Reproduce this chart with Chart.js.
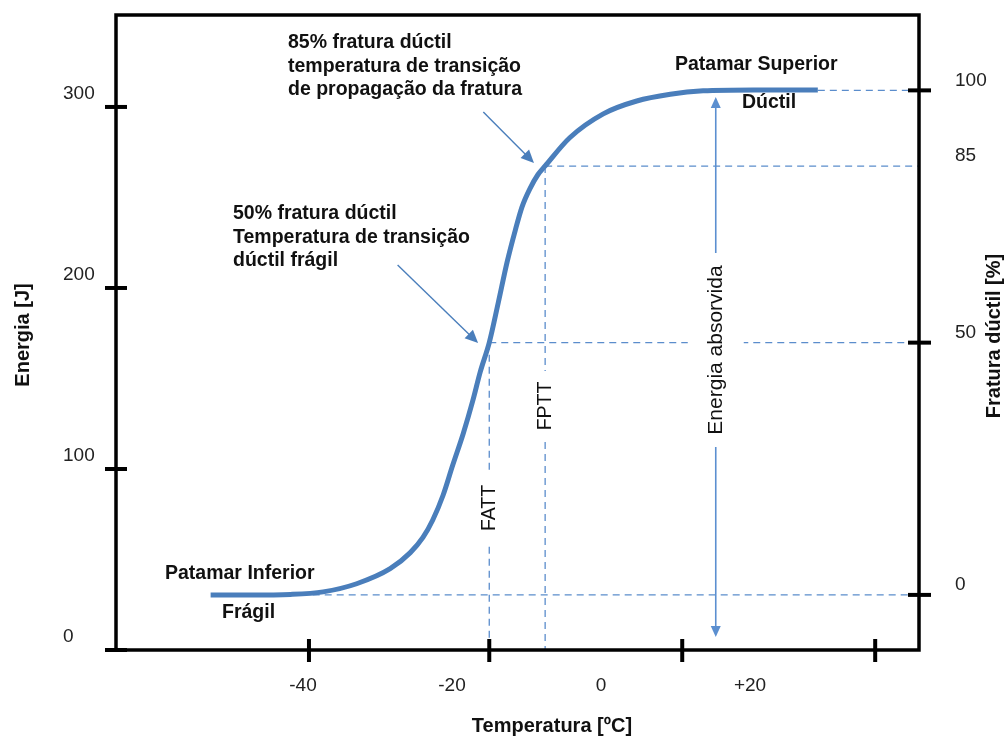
<!DOCTYPE html>
<html>
<head>
<meta charset="utf-8">
<style>
  html, body { margin: 0; padding: 0; background: #ffffff; }
  #wrap { width: 1007px; height: 736px; }
</style>
<script src="https://cdn.jsdelivr.net/npm/chart.js@4/dist/chart.umd.min.js"></script>
</head>
<body>
<div id="wrap"><canvas id="c" width="1007" height="736"></canvas></div>
<script>
// Curva de transição dúctil-frágil (ensaio Charpy): temperatura [ºC] x energia [J]
const temperatura = [-52.4, -47.1, -41.7, -37.3, -32.8, -28.3, -25.6, -23.9, -22.6, -21.2, -19.9, -18.5, -17.2,
  -16.2, -15.0, -13.8, -12.6, -11.5, -10.6, -9.5, -8.5, -7.5, -4.2, 0.3, 4.8, 9.3, 13.7, 20.4, 29.1];
const energia = [30.4, 30.4, 30.7, 32.1, 36.6, 44.9, 53.8, 62.2, 71.7, 85.5, 102.2, 119.5, 137.9,
  153.8, 169.8, 191.7, 214.4, 232.0, 244.8, 255.2, 262.4, 267.4, 283.0, 296.2, 303.3, 307.0, 308.9, 309.4, 309.4];

// Eixos
const ticksTemperatura = [-40, -20, 0, 20];
const marcasTemperatura = [-39.2, -15.0, 10.9, 36.8];
const ticksEnergia = [0, 100, 200, 300];
const ticksFratura = [0, 50, 85, 100];
const marcasFratura = [0, 50, 100];

// Temperaturas de transição
const FATT = -15.0;   // 50% fratura dúctil
const FPTT = -7.5;    // 85% fratura dúctil
const inicioPatamarInferior = -38.7;
const fimPatamarSuperior = 29.1;

// Setas das anotações: [temperatura, energia]
const setaFPTT = { de: [-15.8, 297.2], para: [-9.0, 269.1] };
const setaFATT = { de: [-27.3, 212.7], para: [-16.5, 169.6] };
// Seta dupla da energia absorvida
const energiaAbsorvida = { temperatura: 15.4, de: 7.2, ate: 305.5 };

const FONT = '"Liberation Sans", Arial, Helvetica, sans-serif';
const AZUL = '#4a7ebb';
const AZUL_TRACO = '#5b8dcc';

function setaPonta(ctx, x1, y1, x2, y2, comp, meia) {
  const a = Math.atan2(y2 - y1, x2 - x1);
  ctx.beginPath();
  ctx.moveTo(x2, y2);
  ctx.lineTo(x2 - comp * Math.cos(a) + meia * Math.sin(a), y2 - comp * Math.sin(a) - meia * Math.cos(a));
  ctx.lineTo(x2 - comp * Math.cos(a) - meia * Math.sin(a), y2 - comp * Math.sin(a) + meia * Math.cos(a));
  ctx.closePath();
  ctx.fill();
}

function textoVertical(ctx, txt, cx, cy, font) {
  ctx.save();
  ctx.translate(cx, cy);
  ctx.rotate(-Math.PI / 2);
  ctx.font = font;
  ctx.textAlign = 'center';
  ctx.textBaseline = 'middle';
  ctx.fillText(txt, 0, 0);
  ctx.restore();
}

function semMargens(s) {
  s.paddingTop = 0; s.paddingBottom = 0; s.paddingLeft = 0; s.paddingRight = 0;
}

const anotacoes = {
  id: 'anotacoes',
  beforeDatasetsDraw(chart) {
    const { ctx, chartArea: ca, scales: { x, y, y2 } } = chart;
    ctx.save();
    // linhas tracejadas de referência
    ctx.strokeStyle = AZUL_TRACO;
    ctx.lineWidth = 1.3;
    ctx.setLineDash([7, 5]);
    const horiz = [[100, fimPatamarSuperior], [85, FPTT], [50, FATT], [0, inicioPatamarInferior]];
    horiz.forEach(([p, t]) => {
      ctx.beginPath();
      ctx.moveTo(x.getPixelForValue(t), y2.getPixelForValue(p));
      ctx.lineTo(ca.right, y2.getPixelForValue(p));
      ctx.stroke();
    });
    [[FATT, 50], [FPTT, 85]].forEach(([t, p]) => {
      ctx.beginPath();
      ctx.moveTo(x.getPixelForValue(t), y2.getPixelForValue(p));
      ctx.lineTo(x.getPixelForValue(t), ca.bottom);
      ctx.stroke();
    });
    ctx.setLineDash([]);

    // setas das anotações
    ctx.strokeStyle = AZUL;
    ctx.fillStyle = AZUL;
    ctx.lineWidth = 1.4;
    [setaFPTT, setaFATT].forEach(s => {
      const x1 = x.getPixelForValue(s.de[0]), y1 = y.getPixelForValue(s.de[1]);
      const x2 = x.getPixelForValue(s.para[0]), y2p = y.getPixelForValue(s.para[1]);
      const a = Math.atan2(y2p - y1, x2 - x1);
      ctx.beginPath();
      ctx.moveTo(x1, y1);
      ctx.lineTo(x2 - 8 * Math.cos(a), y2p - 8 * Math.sin(a));
      ctx.stroke();
      setaPonta(ctx, x1, y1, x2, y2p, 13, 6);
    });

    // seta dupla: energia absorvida
    const ex = x.getPixelForValue(energiaAbsorvida.temperatura);
    const eTop = y.getPixelForValue(energiaAbsorvida.ate);
    const eBot = y.getPixelForValue(energiaAbsorvida.de);
    ctx.strokeStyle = '#5b8fd0';
    ctx.fillStyle = '#5b8fd0';
    ctx.lineWidth = 1.6;
    ctx.beginPath();
    ctx.moveTo(ex, eTop + 8);
    ctx.lineTo(ex, eBot - 8);
    ctx.stroke();
    setaPonta(ctx, ex, eBot, ex, eTop, 11, 5);
    setaPonta(ctx, ex, eTop, ex, eBot, 11, 5);

    // rótulos verticais sobre fundo branco
    ctx.fillStyle = '#ffffff';
    const ey = 350;
    ctx.fillRect(ex - 28, ey - 97, 56, 194);
    const fx = x.getPixelForValue(FATT), px = x.getPixelForValue(FPTT);
    ctx.fillRect(fx - 13, 471, 26, 71);
    ctx.fillRect(px - 13, 371, 26, 69);
    ctx.fillStyle = '#111111';
    textoVertical(ctx, 'Energia absorvida', ex, ey, '21px ' + FONT);
    textoVertical(ctx, 'FATT', fx, 508, '19.5px ' + FONT);
    textoVertical(ctx, 'FPTT', px, 406, '19.5px ' + FONT);
    ctx.restore();
  },
  afterDraw(chart) {
    const { ctx, chartArea: ca, scales: { x, y, y2 } } = chart;
    ctx.save();
    // moldura
    ctx.strokeStyle = '#000000';
    ctx.lineWidth = 3.5;
    ctx.lineJoin = 'miter';
    ctx.strokeRect(ca.left, ca.top, ca.right - ca.left, ca.bottom - ca.top);
    // marcas dos eixos (cruzando a linha)
    ctx.lineWidth = 4;
    ticksEnergia.forEach(v => {
      const py = y.getPixelForValue(v);
      ctx.beginPath(); ctx.moveTo(ca.left - 11, py); ctx.lineTo(ca.left + 11, py); ctx.stroke();
    });
    marcasFratura.forEach(v => {
      const py = y2.getPixelForValue(v);
      ctx.beginPath(); ctx.moveTo(ca.right - 11, py); ctx.lineTo(ca.right + 12, py); ctx.stroke();
    });
    marcasTemperatura.forEach(v => {
      const pxx = x.getPixelForValue(v);
      ctx.beginPath(); ctx.moveTo(pxx, ca.bottom - 11); ctx.lineTo(pxx, ca.bottom + 12); ctx.stroke();
    });

    // textos das anotações
    ctx.fillStyle = '#111111';
    ctx.font = 'bold 19.5px ' + FONT;
    ctx.textAlign = 'left';
    ctx.textBaseline = 'middle';
    [['85% fratura dúctil', 288, 43], ['temperatura de transição', 288, 66.5], ['de propagação da fratura', 288, 90],
     ['50% fratura dúctil', 233, 214], ['Temperatura de transição', 233, 238], ['dúctil frágil', 233, 261],
     ['Patamar Inferior', 165, 574], ['Frágil', 222, 613],
     ['Patamar Superior', 675, 65], ['Dúctil', 742, 103]].forEach(([t, tx, ty]) => ctx.fillText(t, tx, ty));

    // títulos dos eixos
    ctx.font = 'bold 20px ' + FONT;
    ctx.textAlign = 'center';
    ctx.fillText('Temperatura [ºC]', 552, 726);
    textoVertical(ctx, 'Energia [J]', 23, 335, 'bold 20px ' + FONT);
    textoVertical(ctx, 'Fratura dúctil [%]', 994, 336, 'bold 20px ' + FONT);
    ctx.restore();
  }
};

const fonteTick = { family: FONT, size: 19 };

new Chart(document.getElementById('c'), {
  type: 'line',
  data: {
    datasets: [{
      data: temperatura.map((t, i) => ({ x: t, y: energia[i] })),
      borderColor: AZUL,
      borderWidth: 5,
      pointRadius: 0,
      fill: false,
      cubicInterpolationMode: 'monotone',
      xAxisID: 'x',
      yAxisID: 'y'
    }]
  },
  options: {
    responsive: false,
    animation: false,
    events: [],
    layout: { padding: { left: 63, top: 15, right: 0, bottom: 0 } },
    plugins: { legend: { display: false }, tooltip: { enabled: false } },
    scales: {
      x: {
        type: 'linear', position: 'bottom', min: -65.1, max: 42.68,
        afterBuildTicks: s => { s.ticks = ticksTemperatura.map(v => ({ value: v })); },
        afterFit: s => { s.height = 86; semMargens(s); },
        grid: { display: false }, border: { display: false },
        ticks: { font: fonteTick, color: '#222222', padding: 16, autoSkip: false, maxRotation: 0,
                 callback: v => (v > 0 ? '+' + v : String(v)) }
      },
      y: {
        type: 'linear', position: 'left', min: 0, max: 350.8,
        afterBuildTicks: s => { s.ticks = ticksEnergia.map(v => ({ value: v })); },
        afterFit: s => { s.width = 53; semMargens(s); },
        grid: { display: false }, border: { display: false },
        ticks: { font: fonteTick, color: '#222222', crossAlign: 'far', labelOffset: -13, autoSkip: false }
      },
      y2: {
        type: 'linear', position: 'right', min: -10.92, max: 114.94,
        afterBuildTicks: s => { s.ticks = ticksFratura.map(v => ({ value: v })); },
        afterFit: s => { s.width = 88; semMargens(s); },
        grid: { display: false }, border: { display: false },
        ticks: { font: fonteTick, color: '#222222', padding: 28, labelOffset: -10, autoSkip: false }
      }
    }
  },
  plugins: [anotacoes]
});
</script>
</body>
</html>
